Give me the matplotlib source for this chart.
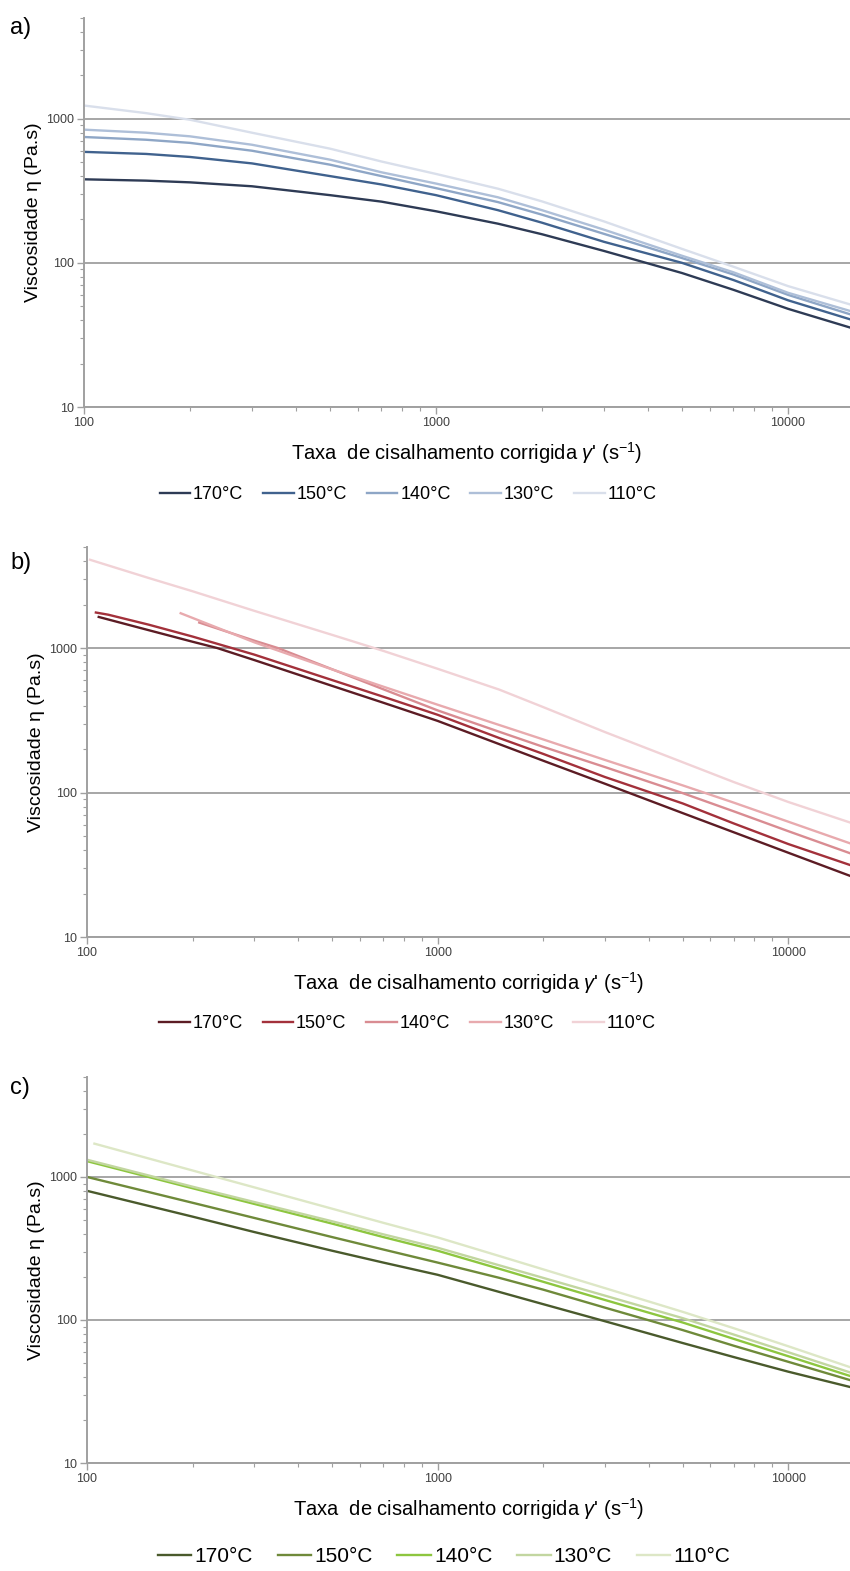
import numpy as np
import matplotlib
matplotlib.use('Agg')
import matplotlib.pyplot as plt
from matplotlib.ticker import LogLocator, NullFormatter

plt.rcParams['font.family'] = ['Liberation Sans', 'DejaVu Sans']
plt.rcParams['mathtext.fontset'] = 'custom'
plt.rcParams['mathtext.rm'] = 'Liberation Sans'
plt.rcParams['mathtext.it'] = 'Liberation Sans:italic'

temps = ['170°C', '150°C', '140°C', '130°C', '110°C']

# a) blue series
rate_a = [100, 150, 200, 300, 500, 700, 1000, 1500, 2000, 3000, 5000, 7000, 10000, 15000]
visc_a_170 = [380, 372, 362, 340, 295, 266, 228, 187, 158, 121, 85, 65, 48, 35.6]
visc_a_150 = [589, 570, 543, 490, 400, 350, 295, 232, 190, 140, 100, 76, 55, 40.6]
visc_a_140 = [747, 715, 680, 600, 480, 400, 330, 264, 216, 159, 108, 83, 60, 44]
visc_a_130 = [840, 800, 755, 660, 520, 425, 355, 285, 232, 170, 112, 86, 62, 46.4]
visc_a_110 = [1235, 1094, 984, 800, 620, 505, 414, 327, 267, 194, 125, 94, 69, 51.5]

# b) red series
rate_b_170 = [108, 150, 200, 235, 300, 500, 700, 1000, 1500, 2000, 3000, 5000, 7000, 10000, 15000]
visc_b_170 = [1640, 1328, 1105, 1000, 825, 547, 418, 313, 216, 166, 115, 72, 53, 38.3, 26.5]
rate_b_150 = [106, 115, 150, 200, 300, 500, 700, 1000, 1500, 2000, 3000, 5000, 7000, 10000, 15000]
visc_b_150 = [1760, 1700, 1450, 1200, 900, 600, 460, 345, 238, 185, 128, 84, 61, 44, 31.5]
rate_b_140 = [209, 300, 350, 500, 700, 1000, 1500, 2000, 3000, 5000, 7000, 10000, 15000]
visc_b_140 = [1500, 1124, 1000, 713, 518, 370, 263, 207, 150, 99, 74, 54, 38]
rate_b_130 = [185, 200, 300, 500, 700, 1000, 1500, 2000, 3000, 5000, 7000, 10000, 15000]
visc_b_130 = [1740, 1615, 1095, 711, 540, 405, 293, 233, 168, 112, 85, 62.8, 44.5]
rate_b_110 = [102, 150, 200, 300, 500, 700, 1000, 1500, 2000, 3000, 5000, 7000, 10000, 15000]
visc_b_110 = [4080, 3050, 2470, 1808, 1233, 955, 718, 515, 390, 262, 162, 118, 86, 62]

# c) green series
rate_c = [100, 200, 300, 500, 700, 1000, 1500, 2000, 3000, 5000, 7000, 10000, 15000]
visc_c_170 = [800, 528, 412, 305, 252, 207, 157, 129, 98, 69, 55, 43.5, 34]
visc_c_150 = [1000, 660, 517, 380, 311, 252, 197, 163, 122, 85, 66, 51, 38]
visc_c_140 = [1290, 834, 648, 472, 380, 305, 228, 185, 138, 96, 73.7, 55.8, 40.6]
visc_c_130 = [1320, 855, 668, 490, 397, 320, 241, 197, 148, 103, 79, 59.5, 43]
rate_c_110 = [105, 200, 300, 500, 700, 1000, 1500, 2000, 3000, 5000, 7000, 10000, 15000]
visc_c_110 = [1710, 1110, 846, 600, 478, 378, 280, 226, 167, 114, 87.5, 65.5, 46.8]

blues = ['#2e3b55', '#40628e', '#8ea6c6', '#aebfd8', '#d9dfeb']
reds = ['#5c1c24', '#a3313b', '#d98c92', '#e8aaae', '#f1d2d6']
greens = ['#4a5a2c', '#6f8a3a', '#8dc63f', '#c2d6a0', '#dde7c6']

xlabel = r"Taxa  de cisalhamento corrigida $\gamma$' (s$^{-1}$)"
ylabel = 'Viscosidade η (Pa.s)'

fig = plt.figure(figsize=(8.5, 15.71), dpi=100)


def setup_axes(rect):
    ax = fig.add_axes(rect)
    ax.set_xscale('log')
    ax.set_yscale('log')
    ax.set_xlim(100, 15000)
    ax.set_ylim(10, 5000)
    ax.set_xticks([100, 1000, 10000], labels=['100', '1000', '10000'])
    ax.set_yticks([10, 100, 1000], labels=['10', '100', '1000'])
    ax.xaxis.set_minor_locator(LogLocator(base=10, subs=np.arange(2, 10)))
    ax.yaxis.set_minor_locator(LogLocator(base=10, subs=np.arange(2, 10)))
    ax.xaxis.set_minor_formatter(NullFormatter())
    ax.yaxis.set_minor_formatter(NullFormatter())
    for s in ['top', 'right']:
        ax.spines[s].set_visible(False)
    for s in ['left', 'bottom']:
        ax.spines[s].set_color('#a0a0a0')
        ax.spines[s].set_linewidth(1.4)
    ax.tick_params(which='major', direction='out', length=5, width=1, color='#a0a0a0',
                   labelsize=9, labelcolor='#404040', pad=2)
    ax.tick_params(which='minor', direction='out', length=3, width=0.8, color='#a0a0a0')
    ax.yaxis.grid(True, which='major', color='#a6a6a6', lw=1.4)
    ax.set_axisbelow(True)
    ax.set_xlabel(xlabel, fontsize=14.5, labelpad=8)
    ax.set_ylabel(ylabel, fontsize=14, labelpad=3)
    return ax


# panel a
ax = setup_axes([84/850, 1-407/1571, 766/850, 389/1571])
for v, c, t in zip([visc_a_170, visc_a_150, visc_a_140, visc_a_130, visc_a_110], blues, temps):
    ax.plot(rate_a, v, color=c, lw=1.7, label=t)
ax.legend(loc='center', bbox_to_anchor=(0.423, -0.225), ncol=5, frameon=False, fontsize=13,
          handlelength=1.7, handletextpad=0.15, columnspacing=1.1)
fig.text(10/850, 1-28/1571, 'a)', fontsize=17, va='center', ha='left')

# panel b
ax = setup_axes([87/850, 1-937/1571, 763/850, 390/1571])
rates_b = [rate_b_170, rate_b_150, rate_b_140, rate_b_130, rate_b_110]
visc_b = [visc_b_170, visc_b_150, visc_b_140, visc_b_130, visc_b_110]
for r, v, c, t in zip(rates_b, visc_b, reds, temps):
    ax.plot(r, v, color=c, lw=1.7, label=t)
ax.legend(loc='center', bbox_to_anchor=(0.42, -0.222), ncol=5, frameon=False, fontsize=13,
          handlelength=1.7, handletextpad=0.15, columnspacing=1.1)
fig.text(10/850, 1-563/1571, 'b)', fontsize=17, va='center', ha='left')

# panel c
ax = setup_axes([87/850, 1-1463/1571, 763/850, 386/1571])
rates_c = [rate_c, rate_c, rate_c, rate_c, rate_c_110]
visc_c = [visc_c_170, visc_c_150, visc_c_140, visc_c_130, visc_c_110]
for r, v, c, t in zip(rates_c, visc_c, greens, temps):
    ax.plot(r, v, color=c, lw=1.7, label=t)
ax.legend(loc='center', bbox_to_anchor=(0.468, -0.243), ncol=5, frameon=False, fontsize=15,
          handlelength=1.6, handletextpad=0.15, columnspacing=1.2)
fig.text(10/850, 1-1088/1571, 'c)', fontsize=17, va='center', ha='left')

fig.savefig('out.png', dpi=100)
